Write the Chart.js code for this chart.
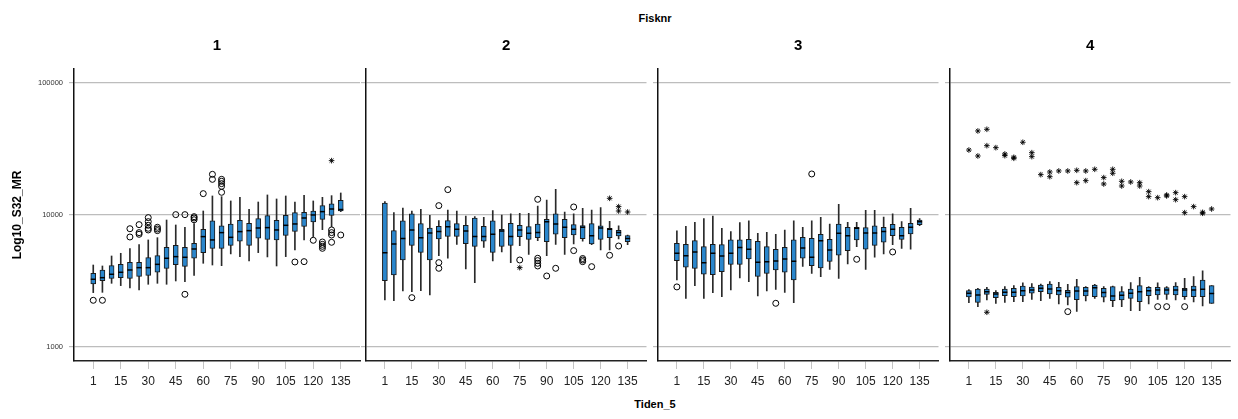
<!DOCTYPE html>
<html><head><meta charset="utf-8">
<script src="https://cdn.jsdelivr.net/npm/chart.js@4.4.0/dist/chart.umd.min.js"></script>
<style>
html,body{margin:0;padding:0;background:#fff;}
#wrap{position:relative;width:1238px;height:419px;overflow:hidden;font-family:"Liberation Sans",Arial,sans-serif;}
canvas{position:absolute;top:0;}
.lbl{position:absolute;font-weight:bold;font-size:11px;line-height:13px;text-align:center;color:#000;}
</style></head><body>
<div id="wrap">
<div class="lbl" style="left:555px;width:200px;top:12px">Fisknr</div>
<div class="lbl" style="left:555px;width:200px;top:398px">Tiden_5</div>
<canvas id="c1" width="366" height="419" style="left:0px;width:366px;height:419px"></canvas>
<canvas id="c2" width="293" height="419" style="left:359px;width:293px;height:419px"></canvas>
<canvas id="c3" width="293" height="419" style="left:651px;width:293px;height:419px"></canvas>
<canvas id="c4" width="293" height="419" style="left:943px;width:293px;height:419px"></canvas>
</div>
<script>
// ---- categories / ticks ----
const times = ['1','5','10','15','20','25','30','35','40','45','50','55','60','65','70','75','80','85','90','95','100','105','110','115','120','125','130','135'];
const xTickLabels = ['1','15','30','45','60','75','90','105','120','135'];
const yTickValues = [1000, 10000, 100000];
const panelTitles = ['1','2','3','4'];

// ---- Fisknr 1 ----
const f1Lo  = [2581,2594,3036,2916,2799,2704,2985,3036,2985,3162,3126,3490,4305,4178,4130,5070,4835,4485,5185,4810,4108,4835,5430,6470,6855,7740,8160,10600];
const f1Q1  = [3000,3183,3313,3350,3313,3428,3490,3680,3945,4205,4085,4700,5185,5590,5590,5890,6320,5890,6660,6540,6470,7010,7520,8200,8850,9270,9940,10720];
const f1Med = [3258,3350,3554,3680,3831,3990,3990,4227,4700,4835,4780,5525,6855,6470,7350,6770,7480,7610,7970,8020,7700,8350,8550,9490,10000,10600,11100,11000];
const f1Q3  = [3614,3831,4130,4227,4377,4377,4750,4920,5690,5890,5690,6100,7790,9010,8260,8550,9120,8650,9380,9880,9120,9940,10410,10470,10720,11770,12120,12910];
const f1Hi  = [4178,4108,4890,5125,5560,5960,6470,6730,9160,8400,8070,8600,10720,13930,13770,12770,13610,11040,12540,14180,13220,13930,12540,14090,12770,13610,14010,14680];
const f1Out = [['1',2258],['5',2258],['20',7870],['20',6810],['25',8450],['25',7350],['25',7140],['30',9550],['30',8900],['30',8350],['30',7930],['30',7700],['35',8070],['35',7830],['35',7610],['45',10060],['50',10060],['50',2506],['55',9710],['55',9490],['55',9200],['60',14510],['65',20320],['65',18620],['70',18620],['70',17990],['70',17270],['70',16490],['70',14850],['110',4405],['115',4430],['120',6430],['125',6240],['125',5990],['125',5790],['125',5590],['130',7700],['130',7350],['130',7050],['130',6210],['135',7050]];
const f1Ext = [['130',25800]];

// ---- Fisknr 2 ----
const f2Lo  = [2270,2244,2657,2626,2672,2477,4920,4700,5990,3900,3072,5690,4485,5245,4355,5860,5035,6400,4920,5990,5035,6030,6320,5960,5430,5430,6580,5960];
const f2Q1  = [3183,3510,4560,5890,5210,4560,6580,6890,6890,6060,5790,6320,5210,5790,5890,6855,6540,6730,6280,7140,6730,7050,6620,6030,6540,6730,6930,6280];
const f2Med = [5185,6030,6620,7700,6730,7310,7480,8160,7790,7570,6855,6855,7140,7570,6855,7700,7260,7350,8900,8550,8070,7790,8070,6970,7970,7790,7350,6620];
const f2Q3  = [12300,7610,9010,10180,8600,7970,8200,9060,8600,8350,9490,8200,9010,7790,8650,8350,8160,8550,9270,10180,9270,8450,8300,8600,8260,7930,7650,6970];
const f2Hi  = [12620,10410,11300,10720,11040,9940,9060,10910,10720,9830,9710,9600,10790,10000,10180,10300,10300,11700,12990,15640,10530,10180,11240,10910,11360,8950,8260,7050];
const f2Out = [['15',2364],['30',11770],['30',4355],['30',3945],['35',15560],['75',4560],['85',13140],['85',4700],['85',4510],['85',4305],['85',4108],['90',3450],['95',3945],['105',11500],['105',5370],['110',4680],['110',4560],['110',4430],['115',4060],['125',4950],['130',5820]];
const f2Ext = [['75',3990],['125',13370],['130',11570],['130',10720],['135',10530]];

// ---- Fisknr 3 ----
const f3Lo  = [3218,2337,2916,2337,2581,2405,2704,3333,3126,2432,2657,2735,2594,2167,4085,3614,3409,3873,3313,4253,5760,3873,4780,5070,5960,5590,5500,8300];
const f3Q1  = [4510,4015,3945,3554,3532,3722,4227,4227,4640,3428,3614,3831,3680,3218,4700,4130,3965,4455,4950,5370,6470,5500,5890,6210,6970,6540,7180,8450];
const f3Med = [5125,4920,5245,4355,5125,4890,5125,5660,5500,4377,4430,4485,4640,4455,5620,4780,6390,5430,7260,6970,7930,7310,7310,7480,7790,6970,8070,8900];
const f3Q3  = [6100,5990,6390,5760,5990,5960,6470,6470,6540,6320,5760,5500,5690,6470,6770,6660,7140,6540,8550,8070,8070,8020,8260,8070,8500,8070,8650,9160];
const f3Hi  = [7570,8200,8800,9380,9830,7930,7480,8750,9010,7260,7390,7140,7700,9010,8070,9010,9600,8550,12050,8800,8800,10840,10840,9660,10180,8900,11240,9380];
const f3Out = [['1',2851],['55',2142],['75',20450],['100',4615],['120',5245]];
const f3Ext = [];

// ---- Fisknr 4 ----
const f4Lo  = [2167,2021,2270,2142,2180,2204,2204,2296,2244,2337,2117,2081,1863,2230,2337,2193,2021,2021,1885,1885,2117,2296,2296,2270,2296,2193,2045,2142];
const f4Q1  = [2390,2180,2506,2364,2447,2405,2433,2551,2626,2520,2477,2380,2280,2433,2405,2380,2244,2270,2337,2204,2447,2477,2506,2477,2405,2405,2405,2142];
const f4Med = [2551,2477,2626,2520,2594,2594,2672,2703,2782,2750,2672,2590,2660,2660,2814,2590,2433,2462,2551,2626,2672,2703,2703,2703,2703,2703,2740,2540];
const f4Q3  = [2672,2750,2750,2594,2740,2782,2898,2848,2950,3000,2832,2690,2866,2832,2950,2782,2866,2626,2740,2916,2832,2832,2814,2898,2782,2898,3218,2916];
const f4Hi  = [2720,2782,2832,2672,2866,2916,3055,3020,3000,3126,3090,2985,3258,2866,2985,2866,2898,2866,3072,3372,2866,3055,2866,3072,3313,3409,3767,2916];
const f4Out = [['55',1853],['105',2021],['110',2021],['120',2021]];
const f4Ext = [['1',31050],['5',43300],['5',27990],['10',44570],['10',33500],['10',1832],['15',32360],['20',28980],['20',28140],['25',27350],['25',26870],['30',35550],['35',29650],['35',27670],['40',20210],['45',21170],['45',19500],['50',21550],['55',21550],['60',21800],['60',17570],['65',21550],['65',18200],['70',22180],['75',19190],['75',17170],['80',22180],['80',20700],['85',17990],['85',16580],['90',17780],['95',17570],['95',16580],['100',15020],['100',13770],['105',13530],['110',14180],['110',13930],['115',14760],['115',13060],['120',13770],['120',10410],['125',11570],['130',10470],['130',10300],['135',11100]];

const panels = [
  {lo:f1Lo,q1:f1Q1,med:f1Med,q3:f1Q3,hi:f1Hi,out:f1Out,ext:f1Ext},
  {lo:f2Lo,q1:f2Q1,med:f2Med,q3:f2Q3,hi:f2Hi,out:f2Out,ext:f2Ext},
  {lo:f3Lo,q1:f3Q1,med:f3Med,q3:f3Q3,hi:f3Hi,out:f3Out,ext:f3Ext},
  {lo:f4Lo,q1:f4Q1,med:f4Med,q3:f4Q3,hi:f4Hi,out:f4Out,ext:f4Ext}
];

const FONT = '"Liberation Sans", Arial, Helvetica, sans-serif';
Chart.defaults.font.family = FONT;

function toBars(a, b) { return times.map((t, i) => ({x: i, y: [a[i], b[i]]})); }
function toPts(a) { return times.map((t, i) => ({x: i, y: a[i]})); }
function toPairs(list) { return list.map(p => ({x: times.indexOf(p[0]), y: p[1]})); }

function makePanel(id, k) {
  const p = panels[k];
  const first = k === 0;
  new Chart(document.getElementById(id), {
    type: 'bar',
    data: {
      datasets: [
        {type:'bar', data: toBars(p.lo, p.hi), barThickness:1, maxBarThickness:1, grouped:false,
         backgroundColor:'#2a2a2a', borderWidth:0, order:4},
        {type:'bar', data: toBars(p.q1, p.q3), barThickness:5, maxBarThickness:5, grouped:false,
         backgroundColor:'#2a86cc', borderColor:'#1a1a1a', borderWidth:1, borderSkipped:false, order:3},
        {type:'scatter', data: toPts(p.med), pointStyle:'line', pointRadius:2.5, borderColor:'#000',
         borderWidth:1.5, order:2},
        {type:'scatter', data: toPairs(p.out), pointStyle:'circle', pointRadius:3,
         backgroundColor:'rgba(255,255,255,0)', borderColor:'#000', borderWidth:1, order:1},
        {type:'scatter', data: toPairs(p.ext), pointStyle:'star', pointRadius:2.8,
         borderColor:'#000', borderWidth:0.9, order:1}
      ]
    },
    options: {
      responsive:false, animation:false, devicePixelRatio:1,
      layout:{padding:{left:0, right: first ? 6 : 0, top:0, bottom:0}},
      plugins:{
        legend:{display:false}, tooltip:{enabled:false},
        title:{display:true, text:panelTitles[k], fullSize:false, color:'#000',
               font:{size:15, weight:'bold'}, padding:{top:37, bottom:14}}
      },
      scales:{
        x:{type:'linear', min:-2.1, max:29.1, bounds:'data', offset:false,
           afterBuildTicks: s => { s.ticks = xTickLabels.map(l => ({value: times.indexOf(l)})); },
           afterFit: s => { s.height = 58; },
           ticks:{autoSkip:false, maxRotation:0, minRotation:0, padding:5, color:'#222',
                  font:{size:12}, callback: v => times[v]},
           grid:{offset:false, drawOnChartArea:false, drawTicks:true, tickLength:8, color:'#c4c4c4', lineWidth:1},
           border:{display:true, color:'#222', width:1.5}
        },
        y:{type:'logarithmic', min:783, max:127600, bounds:'data',
           afterBuildTicks: s => { s.ticks = yTickValues.map(v => ({value: v})); },
           afterFit: s => { s.width = first ? 74 : 7; },
           ticks:{display:first, padding:6, color:'#333', font:{size:7.5}, callback: v => String(v)},
           grid:{color:'#bdbdbd', lineWidth:1.2, tickLength:5, drawTicks:true},
           border:{display:true, color:'#111', width:1.5},
           title:{display:first, text:'Log10_S32_MR', color:'#000', font:{size:12, weight:'bold'},
                  padding:{top:10, bottom:0}}
        }
      }
    }
  });
}
makePanel('c1', 0);
makePanel('c2', 1);
makePanel('c3', 2);
makePanel('c4', 3);
</script>
</body></html>
